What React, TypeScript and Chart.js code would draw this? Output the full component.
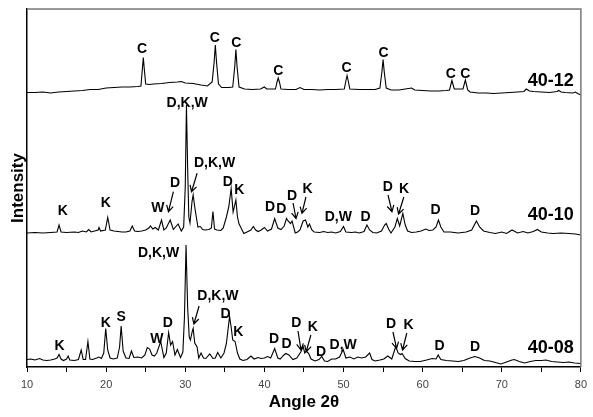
import React, { useEffect, useRef } from "react";
import { Chart, registerables } from "chart.js";

Chart.register(...registerables);

// ---- 40-12 trace (angle 2θ, stacked intensity) ----
const ANGLE_4012 = [10, 11, 12, 13, 14, 15, 16, 17, 18, 19, 20, 21, 22, 23, 24, 24.4, 24.6, 24.7, 24.8, 25.0, 25.5, 26, 27, 28, 29, 29.5, 30, 31, 32, 32.8, 33.4, 33.65, 33.8, 33.95, 34.2, 34.6, 35.5, 36.0, 36.25, 36.4, 36.55, 36.8, 37.5, 38.5, 39.5, 40.0, 40.3, 41.4, 41.6, 41.75, 41.9, 42.1, 43, 44, 44.5, 45, 46, 47, 48, 49, 50.1, 50.3, 50.45, 50.6, 50.8, 52, 53, 54, 54.6, 54.85, 55.0, 55.15, 55.4, 56, 57, 58.6, 59, 60, 61, 62, 63, 63.4, 63.7, 64.0, 65.1, 65.4, 65.7, 66, 67, 68, 69, 70, 71, 72, 72.8, 73.1, 73.5, 74, 75, 76, 77, 77.2, 77.5, 78, 79, 79.3, 79.6, 80];
const INT_4012 = [274.5, 274.5, 275, 274, 275, 275.5, 276, 276.5, 277.5, 277.5, 279, 279.5, 280, 280, 280.5, 281, 300, 309.5, 300, 283, 282.5, 283, 283.5, 284.5, 285, 285.5, 284, 283.5, 282, 281, 285, 305, 322, 305, 283, 279.5, 279.5, 280, 300, 317.5, 300, 280, 278, 277.5, 278, 280, 278, 278, 285, 289, 285, 278, 277.5, 277.5, 279.5, 277.5, 277.5, 277, 277.5, 277.5, 278, 286, 291.5, 286, 278, 277.5, 277.5, 277.5, 279, 295, 307.5, 295, 279, 277, 277, 279, 277, 276.5, 276, 276, 276.5, 277, 286.5, 278, 278, 287, 277, 275, 274, 274, 273.5, 274, 274.5, 275, 275.5, 278, 276, 275.5, 275, 274.5, 275.5, 276.5, 275, 274.5, 274, 275, 273.5, 272];

// ---- 40-10 trace ----
const ANGLE_4010 = [10, 11, 12, 13, 13.8, 14.05, 14.3, 15, 16, 16.5, 17, 17.5, 17.8, 18.1, 19.0, 19.1, 19.3, 19.9, 20.2, 20.5, 21, 21.5, 22, 22.5, 23.0, 23.3, 23.6, 24, 24.5, 25.0, 25.4, 25.6, 25.9, 26.2, 26.6, 27.0, 27.3, 27.6, 28.1, 28.5, 29.1, 29.5, 29.8, 30.0, 30.15, 30.3, 30.45, 30.6, 30.85, 31.0, 31.2, 31.4, 31.6, 31.9, 32.2, 32.5, 33.0, 33.3, 33.5, 33.7, 34.0, 34.5, 34.8, 35.2, 35.5, 35.8, 36.05, 36.4, 36.6, 36.8, 37.0, 37.4, 37.8, 38.3, 38.6, 38.9, 39.2, 39.6, 40.0, 40.4, 40.9, 41.3, 41.7, 42.1, 42.5, 42.8, 43.0, 43.3, 43.5, 43.9, 44.2, 44.5, 44.9, 45.2, 45.5, 45.7, 46.0, 46.3, 47, 47.5, 48, 48.5, 49, 49.6, 50.0, 50.3, 51, 51.5, 52, 52.6, 52.96, 53.3, 53.7, 54.2, 54.8, 55.2, 55.4, 55.7, 56.0, 56.5, 56.8, 57.1, 57.5, 57.8, 58.1, 58.6, 59.2, 59.8, 60.4, 60.8, 61.3, 61.7, 62.0, 62.3, 62.7, 63.5, 64.5, 65.5, 66.2, 66.8, 67.2, 67.7, 68.5, 69.2, 70.0, 70.6, 71.3, 72.0, 72.7, 73.3, 74.0, 74.5, 75.0, 75.8, 76.5, 77.5, 78.5, 79.3, 80];
const INT_4010 = [134, 134.5, 134, 134.5, 135, 142, 135, 134.5, 135, 134.5, 136, 135, 137.5, 135, 137, 139.5, 136, 137, 149.5, 137, 136, 135.5, 135, 135, 136, 141, 136, 135.5, 136, 137, 139, 141, 138, 139.5, 137, 147, 137, 139, 147, 137.5, 143, 136, 140, 180, 262, 200, 150, 144, 165, 172, 160, 150, 140, 140.5, 137.5, 137, 137.5, 139, 155.5, 138, 137, 136.5, 139, 150, 160, 178.5, 155, 167, 150, 143, 140, 133.5, 135, 137, 140.5, 137, 135.5, 137, 139.5, 136, 138, 148.5, 139, 137.5, 141, 148.5, 146, 143.5, 146, 134, 135, 137, 146, 147, 140, 143, 137, 135, 134.5, 135.5, 134.5, 135, 134, 135.5, 140.5, 135, 134.5, 135, 134, 135.5, 142, 137, 134.5, 134, 136, 142, 143.5, 138, 134, 140, 148.5, 141, 153.5, 142, 136, 134.5, 135, 136, 138, 136.5, 137, 140, 147, 140, 135, 135, 134, 135, 137, 146, 140, 136, 134.5, 133.5, 135, 133.5, 137, 134, 135.5, 134, 135.5, 137.5, 135, 134, 133.5, 134, 133.5, 133, 132];

// ---- 40-08 trace ----
const ANGLE_4008 = [10, 10.5, 11, 11.6, 12, 12.5, 13, 13.5, 13.8, 14.05, 14.3, 14.6, 15.0, 15.2, 15.4, 16, 16.5, 16.85, 17.1, 17.4, 17.7, 17.95, 18.3, 18.8, 19.1, 19.4, 19.7, 19.95, 20.2, 20.5, 20.9, 21.4, 21.7, 21.9, 22.15, 22.5, 22.9, 23.2, 23.5, 24.0, 24.5, 24.9, 25.2, 25.5, 25.8, 26.1, 26.4, 26.9, 27.3, 27.6, 27.9, 28.15, 28.4, 28.7, 29.0, 29.4, 29.7, 29.9, 30.1, 30.3, 30.5, 30.65, 30.9, 31.0, 31.2, 31.5, 31.7, 32.0, 32.3, 32.6, 33.1, 33.5, 33.8, 34.1, 34.5, 34.9, 35.2, 35.6, 35.8, 36.0, 36.3, 36.6, 36.9, 37.3, 37.8, 38.3, 38.7, 39.2, 39.6, 40.0, 40.4, 40.8, 41.3, 41.7, 42.0, 42.4, 42.7, 43.1, 43.6, 44.1, 44.6, 44.9, 45.1, 45.3, 45.6, 45.9, 46.4, 46.9, 47.25, 47.6, 48.0, 48.5, 49.0, 49.5, 49.96, 50.3, 50.8, 51.3, 51.8, 52.3, 52.8, 53.3, 53.6, 54.0, 54.6, 55.1, 55.6, 56.1, 56.6, 56.9, 57.2, 57.4, 57.8, 58.3, 59, 59.7, 60.5, 61.2, 61.7, 61.96, 62.3, 63.0, 63.8, 64.5, 65.2, 66.0, 66.6, 67.2, 67.8, 68.5, 69.2, 69.9, 70.6, 71.3, 71.6, 72.2, 72.9, 73.6, 74.3, 75.0, 75.6, 76.3, 77.0, 77.8, 78.5, 79.2, 80];
const INT_4008 = [7.5, 8, 7, 8.5, 7, 6.5, 7, 8, 9, 12.5, 8, 6.5, 8, 11, 7, 6.5, 7.5, 17, 7.5, 7.5, 25.5, 8, 7.5, 9, 10, 8.5, 14, 38.5, 17, 9, 8, 9, 20, 41, 16, 9, 8.5, 16, 9.5, 10, 9, 12, 19.5, 18, 12, 11, 14, 25.5, 9.5, 14, 34.5, 22, 25.5, 12, 17.5, 9.5, 15, 50, 122, 60, 30, 27, 36, 38.5, 24, 20, 9, 14, 9, 8.5, 13, 8.5, 9, 14.5, 9, 14, 23.5, 50.5, 40, 27, 25.5, 14, 8, 6.5, 7.5, 11, 8, 9.5, 8.5, 9, 10.5, 9, 18.5, 9, 8, 11.5, 13.5, 12, 7.5, 9, 15, 20.5, 14, 16, 13.5, 8, 6, 7.5, 10.5, 6, 5.5, 8, 8, 10, 17.5, 9, 10, 8, 10, 9, 10, 14, 7.5, 6, 7, 8, 11, 8, 20.5, 14, 12.5, 13.5, 8.5, 6, 5.5, 5.5, 7, 8.5, 8, 12, 7.5, 6.5, 6, 5.5, 6.5, 9, 10.5, 9, 6.5, 6, 4.5, 3, 5, 7, 7.5, 5.5, 4, 5.5, 6.5, 6.5, 7, 5.5, 5, 4.5, 5, 4, 3.5];

// ---- x-axis ----
const X_MIN = 10;
const X_MAX = 80;
const X_STEP = 5;
const X_LABEL_EVERY = 10;
const Y_MIN = 0;
const Y_MAX = 358;

// ---- phase labels: [text, angle, level] ----
const PEAK_LABELS: [string, number, number][] = [
  ["C", 24.55, 317.7], ["C", 33.75, 328.7], ["C", 36.45, 324.3], ["C", 41.75, 296],
  ["C", 50.4, 298.7], ["C", 55.05, 314.3], ["C", 63.55, 293], ["C", 65.4, 293],
  ["D,K,W", 30.25, 264], ["D,K,W", 33.71, 204.3], ["D", 28.71, 183.7], ["W", 26.54, 158.7],
  ["K", 14.54, 156.3], ["K", 19.96, 163.7], ["D", 35.375, 185.3], ["K", 36.84, 177],
  ["D", 40.71, 159.7], ["D", 42.125, 157.7], ["D", 43.5, 171], ["K", 45.46, 178],
  ["D,W", 49.34, 149.7], ["D", 52.79, 149.7], ["D", 55.59, 179.7], ["K", 57.66, 178],
  ["D", 61.625, 157], ["D", 66.625, 156.3],
  ["D,K,W", 26.625, 114], ["D,K,W", 34.125, 71], ["K", 14.125, 21], ["K", 19.96, 44.3],
  ["S", 21.91, 49.7], ["W", 26.41, 28], ["D", 27.79, 43.7], ["D", 35.09, 53],
  ["K", 36.71, 35.3], ["D", 41.21, 27.7], ["D", 42.79, 23], ["D", 44.04, 44.3],
  ["K", 46.125, 40.3], ["D", 47.16, 15], ["D,W", 49.96, 22], ["D", 56, 42.7],
  ["K", 58.21, 42], ["D", 62.125, 21], ["D", 66.625, 19.7],
];

// ---- arrows: [fromAngle, fromLevel, toAngle, toLevel] ----
const ARROWS: [number, number, number, number][] = [
  [31.5, 193.7, 30.79, 175.3], [28.5, 175.3, 27.875, 155.3],
  [43.625, 164, 44.0, 148.5], [45.25, 170, 44.75, 153.7],
  [55.625, 172, 56.125, 155.3], [57.625, 170, 56.96, 153],
  [31.75, 61, 31.09, 43], [44.25, 36, 44.625, 17], [45.875, 32, 45.29, 15.3],
  [56.25, 35, 56.71, 18.7], [58.0, 34, 57.46, 17],
];

// ---- sample names: [text, level] ----
const SAMPLE_LABELS: [string, number][] = [
  ["40-12", 286],
  ["40-10", 152],
  ["40-08", 19],
];
const SAMPLE_LABEL_ANGLE = 79.1;

const FONT = '"Liberation Sans", Arial, sans-serif';

const toPts = (xs: number[], ys: number[]) => xs.map((x, i) => ({ x, y: ys[i] }));

const annotPlugin = {
  id: "annot",
  afterDatasetsDraw(chart: any) {
    const { ctx, chartArea } = chart;
    const xs = chart.scales.x;
    const ys = chart.scales.y;
    ctx.save();
    ctx.fillStyle = "#000";
    ctx.textAlign = "center";
    ctx.textBaseline = "middle";
    ctx.font = `bold 14px ${FONT}`;
    PEAK_LABELS.forEach(([t, a, v]) => {
      ctx.fillText(t, xs.getPixelForValue(a), ys.getPixelForValue(v));
    });
    ctx.strokeStyle = "#000";
    ctx.lineWidth = 1.2;
    ARROWS.forEach(([a1, v1, a2, v2]) => {
      const x1 = xs.getPixelForValue(a1), y1 = ys.getPixelForValue(v1);
      const x2 = xs.getPixelForValue(a2), y2 = ys.getPixelForValue(v2);
      const ang = Math.atan2(y2 - y1, x2 - x1);
      const h = 7;
      ctx.beginPath();
      ctx.moveTo(x1, y1);
      ctx.lineTo(x2, y2);
      ctx.moveTo(x2 - h * Math.cos(ang - 0.5), y2 - h * Math.sin(ang - 0.5));
      ctx.lineTo(x2, y2);
      ctx.lineTo(x2 - h * Math.cos(ang + 0.5), y2 - h * Math.sin(ang + 0.5));
      ctx.stroke();
    });
    ctx.font = `bold 18px ${FONT}`;
    ctx.textAlign = "right";
    SAMPLE_LABELS.forEach(([t, v]) => {
      ctx.fillText(t, xs.getPixelForValue(SAMPLE_LABEL_ANGLE), ys.getPixelForValue(v));
    });
    ctx.strokeStyle = "#7a7a7a";
    ctx.lineWidth = 1.5;
    ctx.beginPath();
    ctx.moveTo(chartArea.left, chartArea.top);
    ctx.lineTo(chartArea.right, chartArea.top);
    ctx.lineTo(chartArea.right, chartArea.bottom);
    ctx.stroke();
    ctx.restore();
  },
};

export default function App() {
  const ref = useRef<HTMLCanvasElement | null>(null);
  useEffect(() => {
    document.body.style.margin = "0";
    if (!ref.current) return;
    const line = (xs: number[], ys: number[]) => ({
      data: toPts(xs, ys),
      borderColor: "#000",
      borderWidth: 1.1,
      pointRadius: 0,
      fill: false,
      tension: 0,
    });
    const chart = new Chart(ref.current, {
      type: "line",
      data: {
        datasets: [line(ANGLE_4012, INT_4012), line(ANGLE_4010, INT_4010), line(ANGLE_4008, INT_4008)],
      },
      options: {
        animation: false,
        responsive: false,
        maintainAspectRatio: false,
        layout: { padding: { top: 9, right: 6, left: 0, bottom: 0 } },
        plugins: { legend: { display: false }, tooltip: { enabled: false } },
        scales: {
          x: {
            type: "linear",
            min: X_MIN,
            max: X_MAX,
            afterFit: (s: any) => { s.height = 50; },
            ticks: {
              stepSize: X_STEP,
              autoSkip: false,
              maxRotation: 0,
              padding: 6,
              color: "#444",
              font: { family: FONT, size: 11 },
              callback: (v: any) => (Number(v) % X_LABEL_EVERY === 0 ? String(v) : ""),
            },
            grid: { display: true, drawOnChartArea: false, drawTicks: true, tickLength: 5, color: "#000", lineWidth: 1 },
            border: { display: true, color: "#000", width: 1.5 },
            title: {
              display: true,
              text: "Angle 2θ",
              color: "#000",
              font: { family: FONT, size: 17, weight: "bold" },
              padding: { top: 0, bottom: 4 },
            },
          },
          y: {
            type: "linear",
            min: Y_MIN,
            max: Y_MAX,
            afterFit: (s: any) => { s.width = 27; },
            ticks: { display: false },
            grid: { display: false },
            border: { display: true, color: "#000", width: 1.5 },
            title: {
              display: true,
              text: "Intensity",
              color: "#000",
              font: { family: FONT, size: 17, weight: "bold" },
              padding: { top: 8, bottom: 0 },
            },
          },
        },
      },
      plugins: [annotPlugin],
    } as any);
    return () => chart.destroy();
  }, []);
  return <canvas ref={ref} width={593} height={417} style={{ display: "block", width: 593, height: 417 }} />;
}
